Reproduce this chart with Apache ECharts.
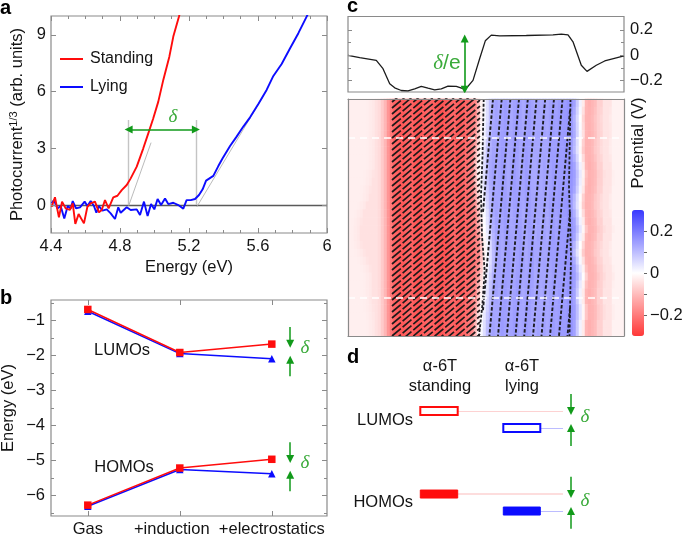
<!DOCTYPE html>
<html><head><meta charset="utf-8">
<style>html,body{margin:0;padding:0;background:#fff}#c{width:685px;height:535px}</style>
<script src="https://cdn.jsdelivr.net/npm/echarts@6/dist/echarts.min.js"></script>
</head><body><div id="c"></div>
<script>
// ---- panel a
const standingE=[4.404,4.423,4.446,4.464,4.485,4.51,4.526,4.541,4.56,4.591,4.611,4.63,4.655,4.678,4.694,4.713,4.734,4.761,4.785,4.81,4.839,4.862,4.897,4.935,4.964,4.993,5.022,5.051,5.086,5.109,5.142,5.16];
const standingI=[-.09,.41,-.65,.18,-.18,-.26,.09,-1.0,-.48,-.97,-.09,.09,.18,-.39,-.26,.26,-.18,.41,.49,.79,1.06,1.41,2.03,3.0,3.79,4.59,5.47,6.62,7.85,8.91,9.97,10.6];
const lyingE=[4.404,4.417,4.437,4.456,4.477,4.497,4.514,4.526,4.545,4.568,4.595,4.611,4.63,4.649,4.663,4.678,4.698,4.723,4.746,4.771,4.79,4.804,4.839,4.862,4.897,4.916,4.939,4.96,4.98,4.999,5.018,5.038,5.061,5.08,5.109,5.138,5.167,5.186,5.21,5.235,5.258,5.279,5.299,5.341,5.37,5.395,5.438,5.476,5.515,5.554,5.602,5.65,5.689,5.737,5.786,5.834,5.882,5.9];
const lyingI=[.09,.26,-.18,-.05,-.71,-.05,-.18,.21,-.18,-.12,.18,-.05,.21,-.05,-.41,-.05,-.3,-.23,-.44,-.74,-.12,-.41,-.12,-.26,-.23,-.53,.18,-.58,.05,-.23,.32,0,.35,.05,.12,0,-.19,.26,.26,.32,.53,.83,1.29,1.54,2.06,2.47,3.12,3.62,4.15,4.64,5.35,6.09,6.83,7.46,8.29,9.09,9.97,10.3];
const aXMajor=[4.4,4.8,5.2,5.6,6];
const aXMinor=[4.5,4.6,4.7,4.9,5,5.1,5.3,5.4,5.5,5.7,5.8,5.9];
const aYMajor=[0,3,6,9];
const onsets=[4.85,5.24];
const fitStanding=[[4.85,-.05],[4.98,3.3]];
const fitLying=[[5.245,-.1],[5.63,5.75]];
// ---- panel b (x positions of the three stages on the hidden scale 0..3)
const bCats=['Gas','+induction','+electrostatics'];
const bStage=[.4,1.4,2.4];
const bLabelAt=[.4,1.313,2.4];
const lumoStanding=[-.69,-1.92,-1.68];
const lumoLying=[-.74,-1.95,-2.1];
const homoStanding=[-6.28,-5.22,-4.97];
const homoLying=[-6.31,-5.26,-5.38];
const bYMajor=[-1,-2,-3,-4,-5,-6];
const bYMinor=[-.5,-1.5,-2.5,-3.5,-4.5,-5.5,-6.5];
const bArrows=[[[2.6,-1.19],[2.6,-1.67]],[[2.6,-2.6],[2.6,-2.13]],[[2.6,-4.48],[2.6,-4.96]],[[2.6,-5.88],[2.6,-5.41]]];
// ---- panel c, line cut
const cutX=[0,1.17,2.83,3.5,4.17,4.67,5.33,6,6.67,7.33,8,8.67,9.33,10,10.83,11.73,12.5,13.17,13.73,14.33,15.17,17.83,20.5,21.33,22,22.5,23.33,23.9,24.83,25.67,26.83,27.6];
const cutV=[0,-.019,-.04,-.106,-.225,-.257,-.278,-.281,-.265,-.246,-.26,-.273,-.265,-.244,-.246,-.27,-.198,-.026,.114,.159,.153,.156,.161,.167,.161,.106,-.079,-.127,-.079,-.045,-.021,-.005];
const cYMajor=[.2,0,-.2];
const cYMinor=[.1,-.1];
// ---- panel c, potential map (one column every 3 px, one row every 7.9 px)
const potentialProfile=[-.024,-.024,-.024,-.024,-.024,-.024,-.026,-.03,-.035,-.045,-.055,-.08,-.11,-.16,-.2,-.23,
-.24,-.25,-.25,-.24,-.23,-.24,-.25,-.26,-.25,-.24,-.23,-.23,-.24,-.25,-.26,-.26,-.25,-.24,-.23,-.23,-.24,-.25,-.24,-.23,-.22,-.2,-.18,
-.1,-.02,.01,.05,.1,
.13,.14,.13,.14,.15,.14,.13,.14,.15,.14,.13,.14,.15,.14,.13,.14,.13,.14,.13,.14,.15,.14,.15,.15,.15,.16,
.16,.14,.08,.02,-.03,
-.11,-.12,-.11,-.1,-.07,-.07,-.04,-.04,-.04,-.02,-.02,-.02,-.02];
const leftBulge=[0,0,0,0,0,0,0,0,0,.5,1,1.5,2,3,4,4.5,5,5,4.5,3.5,2.5,1.5,1,1,1,.8,.5,.3,0,0];
const midShift=[0,0,0,.2,.3,.5,.7,.9,1,1,.9,.7,.5,.3,0,-.2,-.4,-.7,-.9,-1,-1,-.8,-.5,-.2,0,.2,.4,.6,.9,1];
const rightShift=[0,.2,.4,.3,.2,.5,.6,.3,0,-.2,-.1,.1,.5,.6,.3,0,-.3,0,.4,.6,.2,-.2,-.5,-.2,0,0,-.3,-.3,0,0];
// molecules: start height of each standing row, top x of each lying row
const standingRows=[-7.2,-6.6,-6,-5.4,-4.8,-4.2,-3.6,-3,-2.4,-1.8,-1.2,-.6,0,.6,1.2,1.8,2.4,3,3.6,4.2,4.8,5.4,6,6.6,7.2,7.8,8.4,9,9.6,10.2,10.8,11.4,12,12.6,13.2,13.8,14.4,15,15.6,16.2,16.8,17.4,18,18.6,19.2,19.8,20.4,21,21.6,22.2,22.8,23.4];
const lyingRows=[14.5,15.37,16.24,17.1,17.98,18.85,19.72,20.6,21.45,22.3,23.2,24.05];
const lyingTilt=2.1;
const interfaceLine=[[13.57,23.7],[13.45,18],[13.3,14],[13.4,10],[13.67,6.5],[13.43,3],[13.1,0]];
const rightEdgeLine=[[22.25,23.7],[22.1,15],[22.3,8],[22.15,0]];
const dashedCuts=[19.87,3.83];
const cArrow=[[11.67,.132],[11.67,-.272]];
const barMajor=[.2,0,-.2];
const barMinor=[.1,-.1];
// ---- panel d (levels in units of delta)
const levels={lumoStanding:5.88,lumoLying:4.88,homoStanding:1,homoLying:0};
const dArrows=[[[161,6.88],[161,5.88]],[[161,3.82],[161,4.88]],[[161,2.02],[161,1]],[[161,-1.04],[161,0]]];

const FONT='"Liberation Sans",Arial,sans-serif';
const FRAME='#8a8a8a', GREEN='#119a1a', DELTA='#3aaa3a', INK='#141414';
const RED='#ff0c0c', BLUE='#0c0cff';
const minus=v=>String(v).replace('-','\u2212');

const pix={a:{left:51,top:16,width:276,height:217},b:{left:51,top:300,width:276,height:216},
 ct:{left:348,top:16.5,width:276,height:75.5},h:{left:348,top:99,width:276,height:237},
 bar:{left:632,top:210,width:12,height:126},d:{left:410,top:390,width:180,height:145}};
const grid=[
 {...pix.a,show:true,borderColor:FRAME,borderWidth:1.2,backgroundColor:'#fff'},
 {...pix.b,show:true,borderColor:FRAME,borderWidth:1.2},
 {...pix.ct,show:true,borderColor:FRAME,borderWidth:1.2},
 {...pix.h},{...pix.h},{...pix.bar},{...pix.d}];
grid.forEach(g=>{g.outerBoundsMode='none';g.containLabel=false;});

const blank=(gi,min,max)=>({type:'value',gridIndex:gi,min,max,show:false,splitLine:{show:false}});
const lblStyle={color:INK,fontSize:16.5,fontFamily:FONT};
const xAxis=[
 {type:'value',gridIndex:0,min:4.4,max:6,interval:.4,splitLine:{show:false},axisLine:{show:false},axisTick:{show:false},
  axisLabel:{...lblStyle,margin:5,showMinLabel:true,showMaxLabel:true,hideOverlap:false},
  name:'Energy (eV)',nameLocation:'middle',nameGap:26,nameTextStyle:{...lblStyle}},
 {type:'value',gridIndex:1,min:0,max:3,splitLine:{show:false},axisLine:{show:false},axisTick:{show:false},axisLabel:{show:false}},
 blank(2,0,27.6),
 {type:'category',gridIndex:3,show:false,data:potentialProfile.map((_,i)=>i)},
 {type:'value',gridIndex:4,min:0,max:27.6,z:6,splitLine:{show:false},axisTick:{show:false},axisLabel:{show:false},axisLine:{show:true,lineStyle:{color:FRAME,width:1.2}}},
 blank(5,0,1),
 blank(6,0,180)];
const yAxis=[
 {type:'value',gridIndex:0,min:-1.48,max:10,splitLine:{show:false},axisLine:{show:false},axisTick:{show:false},
  axisLabel:{...lblStyle,margin:5,customValues:aYMajor,showMinLabel:true,showMaxLabel:true,hideOverlap:false},
  name:'Photocurrent{s|1/3} (arb. units)',nameLocation:'middle',nameGap:25,
  nameTextStyle:{...lblStyle,rich:{s:{fontSize:11,fontFamily:FONT,color:INK,padding:[0,0,7,0]}}}},
 {type:'value',gridIndex:1,min:-6.59,max:-.42,splitLine:{show:false},axisLine:{show:false},axisTick:{show:false},
  axisLabel:{...lblStyle,margin:6,customValues:bYMajor,formatter:minus,showMinLabel:true,showMaxLabel:true,hideOverlap:false},
  name:'Energy (eV)',nameLocation:'middle',nameGap:34,nameTextStyle:{...lblStyle}},
 {type:'value',gridIndex:2,position:'right',min:-.29,max:.306,splitLine:{show:false},axisLine:{show:false},axisTick:{show:false},
  axisLabel:{...lblStyle,margin:6,customValues:cYMajor,formatter:minus,showMinLabel:true,showMaxLabel:true,hideOverlap:false}},
 {type:'category',gridIndex:3,show:false,inverse:true,data:leftBulge.map((_,i)=>i)},
 {type:'value',gridIndex:4,min:0,max:23.7,z:6,splitLine:{show:false},axisTick:{show:false},axisLabel:{show:false},axisLine:{show:true,lineStyle:{color:FRAME,width:1.2}}},
 {type:'value',gridIndex:5,position:'right',min:-.3,max:.3,splitLine:{show:false},axisLine:{show:false},
  axisTick:{show:true,length:3,customValues:barMajor,lineStyle:{color:'#666',width:1}},
  axisLabel:{...lblStyle,margin:6,customValues:barMajor,formatter:minus,showMinLabel:true,showMaxLabel:true,hideOverlap:false}},
 blank(6,-1.41,7.12)];

function tickAxis(list,gi,pos,min,max,vals,len,color){
 list.push({type:'value',gridIndex:gi,position:pos,min,max,z:6,splitLine:{show:false},axisLine:{show:false},axisLabel:{show:false},
  axisTick:{show:true,inside:true,length:len,customValues:vals,lineStyle:{color:color||FRAME,width:1}}});
}
for(const p of ['bottom','top']){
 tickAxis(xAxis,0,p,4.4,6,aXMajor,5); tickAxis(xAxis,0,p,4.4,6,aXMinor,3);
 tickAxis(xAxis,1,p,0,3,bStage,5);
}
// one label axis per category, so that the close labels all stay
bCats.forEach((name,i)=>xAxis.push({type:'value',gridIndex:1,position:'bottom',min:0,max:3,splitLine:{show:false},axisLine:{show:false},axisTick:{show:false},
  axisLabel:{...lblStyle,margin:5,customValues:[bLabelAt[i]],formatter:()=>name,showMinLabel:true,showMaxLabel:true,hideOverlap:false}}));
for(const p of ['left','right']){
 tickAxis(yAxis,0,p,-1.48,10,aYMajor,5);
 tickAxis(yAxis,1,p,-6.59,-.42,bYMajor,5); tickAxis(yAxis,1,p,-6.59,-.42,bYMinor,3);
 tickAxis(yAxis,2,p,-.29,.306,cYMajor,4); tickAxis(yAxis,2,p,-.29,.306,cYMinor,3);
}
// frame of the map: mirror axes
xAxis.push({type:'value',gridIndex:4,position:'top',min:0,max:27.6,z:6,splitLine:{show:false},axisTick:{show:false},axisLabel:{show:false},axisLine:{show:true,lineStyle:{color:FRAME,width:1.2}}});
yAxis.push({type:'value',gridIndex:4,position:'right',min:0,max:23.7,z:6,splitLine:{show:false},axisTick:{show:false},axisLabel:{show:false},axisLine:{show:true,lineStyle:{color:FRAME,width:1.2}}});
yAxis.push({type:'value',gridIndex:5,position:'right',min:-.3,max:.3,splitLine:{show:false},axisLine:{show:false},axisLabel:{show:false},
  axisTick:{show:true,length:3,customValues:barMinor,lineStyle:{color:'#666',width:1}}});
[...xAxis,...yAxis].forEach(a=>{a.axisLine={...(a.axisLine||{}),onZero:false};});

const zip=(a,b)=>a.map((v,i)=>[v,b[i]]);
const lineS=(gi,data,color,width,z,name)=>({type:'line',name,xAxisIndex:gi,yAxisIndex:gi,data,showSymbol:false,symbol:'none',animation:false,silent:true,z:z||3,clip:true,lineStyle:{color,width},itemStyle:{color}});
const segS=(gi,coordsList,color,width,opt={})=>({type:'lines',coordinateSystem:'cartesian2d',xAxisIndex:gi,yAxisIndex:gi,polyline:!!opt.polyline,clip:true,silent:true,animation:false,z:opt.z||4,
  symbol:opt.symbol||['none','none'],symbolSize:opt.size||6,lineStyle:{color,width,opacity:1,type:opt.dash||'solid',cap:'butt'},effect:{show:false},
  data:coordsList.map(c=>({coords:c}))});
const arrowEnd={symbol:['none','triangle'],size:[8,8]};

// heat map cells
const sample=pos=>{const p=Math.max(0,Math.min(91,pos)),i=Math.floor(p),f=p-i;return f?potentialProfile[i]*(1-f)+potentialProfile[i+1]*f:potentialProfile[i];};
const heat=[];
leftBulge.forEach((_,r)=>{
 potentialProfile.forEach((_,c)=>{
  let v;
  if(c<10) v=sample(Math.min(c+leftBulge[r],9));
  else if(c<30) v=potentialProfile[c];
  else if(c<62) v=sample(c+midShift[r]);
  else v=sample(Math.max(c+rightShift[r],62));
  heat.push([c,r,v]);
 });
});
const standingSegs=standingRows.map(b=>[[4.4,b],[13.2,b+8.8*.84]]);
const lyingSegs=lyingRows.map(t=>{
 const lo=13.5,hi=22.2,bottom=t-lyingTilt;
 const yAt=x=>23.7*(x-bottom)/lyingTilt;
 return [[Math.min(t,hi),Math.min(23.7,yAt(Math.min(t,hi)))],[Math.max(bottom,lo),Math.max(0,yAt(Math.max(bottom,lo)))]];
});

const custom={type:'custom',coordinateSystem:'cartesian2d',xAxisIndex:6,yAxisIndex:6,silent:true,animation:false,z:5,
 data:[[10.3,47.7,levels.lumoStanding,0,0],[93.3,130.3,levels.lumoLying,1,0],[10.3,47.7,levels.homoStanding,0,1],[93.3,130.3,levels.homoLying,1,1]],
 encode:{x:[0,1],y:2},
 renderItem(p,api){
  const a=api.coord([api.value(0),api.value(2)]),b=api.coord([api.value(1),api.value(2)]);
  const col=api.value(3)?BLUE:RED,filled=api.value(4);
  return {type:'rect',shape:{x:a[0],y:a[1]-4,width:b[0]-a[0],height:8},style:{fill:filled?col:'#fff',stroke:col,lineWidth:filled?1:2}};
 }};

const series=[
 // a
 segS(0,[[[4.4,0],[6,0]]],'#5a5a5a',1.3,{z:2}),
 segS(0,onsets.map(x=>[[x,0],[x,4.5]]),'#c4c4c4',1.4,{z:2}),
 segS(0,[fitStanding,fitLying],'#a8a8a8',.8,{z:2}),
 lineS(0,zip(lyingE,lyingI),BLUE,1.9,3,'Lying'),
 lineS(0,zip(standingE,standingI),RED,1.9,3,'Standing'),
 segS(0,[[[onsets[0],4],[onsets[1],4]]],GREEN,1.6,{z:5,symbol:['triangle','triangle'],size:[8,8]}),
 // b
 ...[[lumoLying,BLUE,'triangle'],[homoLying,BLUE,'triangle'],[lumoStanding,RED,'rect'],[homoStanding,RED,'rect']].map(([v,c,sym])=>({
   type:'line',xAxisIndex:1,yAxisIndex:1,data:zip(bStage,v),symbol:sym,symbolSize:7.5,showSymbol:true,animation:false,silent:true,z:3,
   lineStyle:{color:c,width:1.5},itemStyle:{color:c}})),
 ...bArrows.map(a=>segS(1,[a],GREEN,1.5,{...arrowEnd})),
 // c top
 lineS(2,zip(cutX,cutV),'#1c1c1c',1.3),
 segS(2,[cArrow],GREEN,1.6,{symbol:['triangle','triangle'],size:[8,8]}),
 // c map
 {type:'heatmap',xAxisIndex:3,yAxisIndex:3,data:heat,silent:true,animation:false,progressive:0,z:1,itemStyle:{borderWidth:0}},
 segS(4,standingSegs,'#1e1a1a',1.7,{dash:[11.5,2.4],z:3}),
 segS(4,lyingSegs,'#1e1e24',1.9,{dash:[3.5,2],z:3}),
 segS(4,[interfaceLine,rightEdgeLine],'#1e1e24',1.8,{polyline:true,dash:[3,1.8],z:3}),
 segS(4,dashedCuts.map(y=>[[0,y],[27.6,y]]),'#fff',1.5,{dash:[7,5],z:4}),
 // d
 segS(6,[[[47.7,levels.lumoStanding],[153,levels.lumoStanding]]],'#fdd2d2',1.1,{z:3}),
 segS(6,[[[47.7,levels.homoStanding],[153,levels.homoStanding]]],'#fdd2d2',1.6,{z:3}),
 segS(6,[[[130.3,levels.lumoLying],[153,levels.lumoLying]],[[130.3,levels.homoLying],[153,levels.homoLying]]],'#bcbcff',1.1,{z:3}),
 custom,
 ...dArrows.map(a=>segS(6,[a],GREEN,1.5,{...arrowEnd})),
];
const heatIdx=series.findIndex(s=>s.type==='heatmap');

const t=(text,x,y,o={})=>({type:'text',x,y,rotation:o.rot||0,silent:true,z:20,style:{text,fill:o.fill||INK,font:o.font||`16.5px ${FONT}`,align:o.align||'center',verticalAlign:'middle',...(o.rich?{rich:o.rich}:{})}});
const delta=(x,y,size)=>t('\u03b4',x,y,{fill:DELTA,font:`italic ${size||19}px "Liberation Serif",serif`});
const letter=(s,x,y)=>t(s,x,y,{font:`bold 20px ${FONT}`,fill:'#000',align:'left'});

const option={
 animation:false,backgroundColor:'#fff',textStyle:{fontFamily:FONT},
 grid,xAxis,yAxis,series,
 legend:{data:['Standing','Lying'],orient:'vertical',left:60,top:50,padding:0,icon:'rect',itemWidth:23,itemHeight:2,itemGap:10,selectedMode:false,
   textStyle:{...lblStyle,fontSize:16,padding:[0,0,0,2],lineHeight:18}},
 visualMap:{type:'continuous',show:true,seriesIndex:heatIdx,min:-.3,max:.3,left:632,top:210,itemWidth:12,itemHeight:126,padding:0,calculable:false,hoverLink:false,realtime:false,text:null,showLabel:false,textStyle:{color:'transparent',fontSize:1},
   inRange:{color:['#ff3838','#ffffff','#3838ff']}},
 graphic:[
  letter('a',0,8),letter('b',0,298),letter('c',347,6),letter('d',347,357),
  delta(173,117),
  t('LUMOs',122,350),t('HOMOs',124,467.5),
  delta(305,348),delta(305,463),
  t('{d|\u03b4}{e|/e}',447,63,{fill:DELTA,rich:{d:{fill:DELTA,font:'italic 21px "Liberation Serif",serif'},e:{fill:DELTA,font:`21px ${FONT}`}}}),
  t('Potential (V)',638,143,{rot:Math.PI/2}),
  t('\u03b1-6T',440,366),t('standing',440,386),t('\u03b1-6T',522,366),t('lying',522,386),
  t('LUMOs',413,420,{align:'right'}),t('HOMOs',413,502.5,{align:'right'}),
  delta(585,417),delta(585,501),
 ]
};
const chart=echarts.init(document.getElementById('c'),null,{renderer:'canvas'});
chart.setOption(option);
</script></body></html>
